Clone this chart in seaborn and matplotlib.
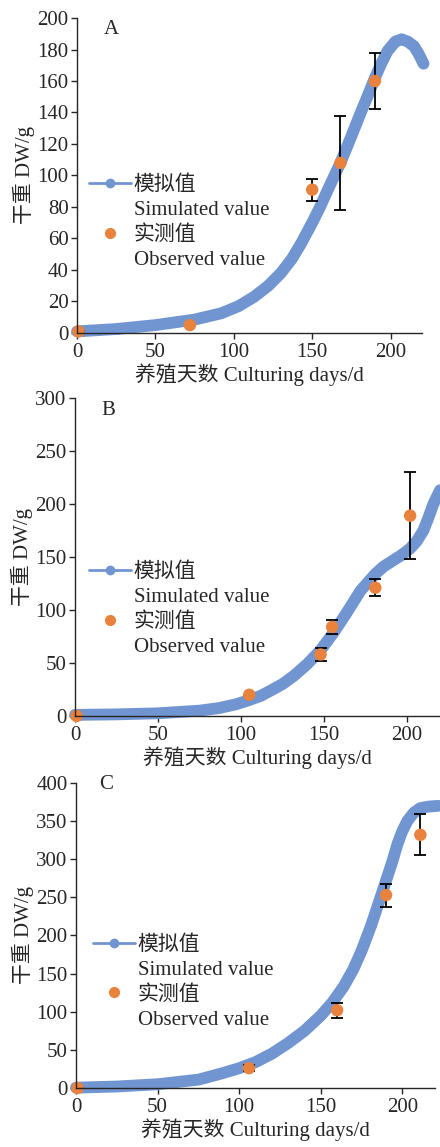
import matplotlib
matplotlib.use("Agg")
import matplotlib.pyplot as plt
from matplotlib.lines import Line2D
import seaborn as sns
import pandas as pd

# ─── Data ────────────────────────────────────────────────────────────────────

sim_days_a = [0, 25, 50, 75, 92, 103, 113, 122, 130, 137, 143, 150, 155, 160,
              168, 175, 181, 186, 190, 194, 198, 203, 207, 211, 215, 218, 221]
sim_dw_a = [1, 2.5, 5, 8.5, 12.5, 17, 23, 30, 38, 47, 57, 70, 80, 91,
            108, 125, 140, 152, 162, 171, 179, 185, 186.5, 185, 182, 177, 171]
obs_days_a = [1, 72, 150, 168, 190]
obs_dw_a = [1, 5, 91, 108, 160]
obs_err_a = [0, 0, 7, 30, 17.5]

sim_days_b = [0, 25, 50, 75, 87, 97, 105, 112, 118, 125, 132, 140, 148, 156,
              164, 172, 181, 186, 192, 197, 202, 206, 210, 213, 216, 220]
sim_dw_b = [1, 1.5, 2.5, 5, 7.5, 11, 15, 19, 24, 30, 38, 49, 62, 79,
            98, 118, 134, 141, 147, 152, 158, 165, 175, 187, 200, 213]
obs_days_b = [1, 105, 148, 155, 181, 202]
obs_dw_b = [0, 20, 58, 84, 121, 189]
obs_err_b = [0, 0, 6.5, 6.5, 8, 41]

sim_days_c = [0, 25, 50, 75, 89, 100, 110, 120, 130, 140, 150, 157, 164,
              170, 175, 181, 186, 190, 194, 197, 200, 203, 207, 211, 216, 222]
sim_dw_c = [0.5, 2, 5, 11, 19, 26, 34, 45, 59, 75, 95, 112, 133,
            156, 180, 214, 246, 272, 298, 320, 337, 350, 361, 367, 369, 370]
obs_days_c = [1, 106, 160, 190, 211]
obs_dw_c = [0, 26, 102, 253, 332]
obs_err_c = [0, 4, 10, 15, 27]

panel_letters = ["A", "B", "C"]
y_limits = [200, 300, 400]
y_steps = [20, 50, 50]
x_ticks = [0, 50, 100, 150, 200]

BLUE = "#7195D1"
ORANGE = "#E8823D"

sns.set_style("ticks")
plt.rcParams["font.family"] = ["Liberation Serif", "Noto Sans CJK SC"]
plt.rcParams["font.size"] = 15

fig = plt.figure(figsize=(4.4, 11.47), dpi=100)

# axes boxes in figure fractions (left, bottom, width, height)
boxes = [
    (0.175, 0.7097, 0.784, 0.2746),
    (0.1705, 0.3758, 0.8295, 0.2772),
    (0.1727, 0.0514, 0.816, 0.2660),
]
legend_anchor = [(0.035, 0.499), (0.038, 0.482), (0.047, 0.50)]
letter_pos = [(0.10, 0.965), (0.09, 0.96), (0.084, 0.995)]

panels = [
    (sim_days_a, sim_dw_a, obs_days_a, obs_dw_a, obs_err_a),
    (sim_days_b, sim_dw_b, obs_days_b, obs_dw_b, obs_err_b),
    (sim_days_c, sim_dw_c, obs_days_c, obs_dw_c, obs_err_c),
]

for i, (sd, sv, od, ov, oe) in enumerate(panels):
    ax = fig.add_axes(boxes[i])
    sim = pd.DataFrame({"day": sd, "dw": sv})
    obs = pd.DataFrame({"day": od, "dw": ov, "err": oe})

    sns.lineplot(data=sim, x="day", y="dw", ax=ax, color=BLUE, lw=8.5,
                 solid_capstyle="round", solid_joinstyle="round",
                 clip_on=False, zorder=2)
    ax.errorbar(obs["day"], obs["dw"], yerr=obs["err"], fmt="none",
                ecolor="black", elinewidth=1.3, capsize=4, capthick=1.3,
                zorder=3)
    sns.scatterplot(data=obs, x="day", y="dw", ax=ax, color=ORANGE, s=80,
                    edgecolor="none", zorder=4, clip_on=False)

    ax.set_xlim(0, 220)
    ax.set_ylim(0, y_limits[i])
    ax.set_xticks(x_ticks)
    ax.set_yticks(range(0, y_limits[i] + 1, y_steps[i]))
    ax.tick_params(direction="out", length=4, width=1, labelsize=15, pad=2)
    ax.tick_params(axis="x", pad=3)
    sns.despine(ax=ax)
    for s in ["left", "bottom"]:
        ax.spines[s].set_linewidth(1)
        ax.spines[s].set_zorder(5)

    ax.set_xlabel("养殖天数 Culturing days/d", fontsize=15, labelpad=1)
    ax.set_ylabel("干重 DW/g", fontsize=15, labelpad=2)
    ax.text(letter_pos[i][0], letter_pos[i][1], panel_letters[i],
            transform=ax.transAxes, fontsize=15, ha="center", va="center")

    blank = Line2D([], [], alpha=0)
    handles = [
        Line2D([], [], color=BLUE, lw=2, marker="o", ms=6),
        blank,
        Line2D([], [], ls="", color=ORANGE, marker="o", ms=7),
        blank,
    ]
    labels = ["模拟值", "Simulated value", "实测值", "Observed value"]
    ax.legend(handles, labels, loc="upper left",
              bbox_to_anchor=legend_anchor[i], frameon=False, fontsize=15,
              handlelength=2.0, handletextpad=0.15, labelspacing=0.25,
              borderpad=0, borderaxespad=0)

fig.savefig("out.png", dpi=100)
